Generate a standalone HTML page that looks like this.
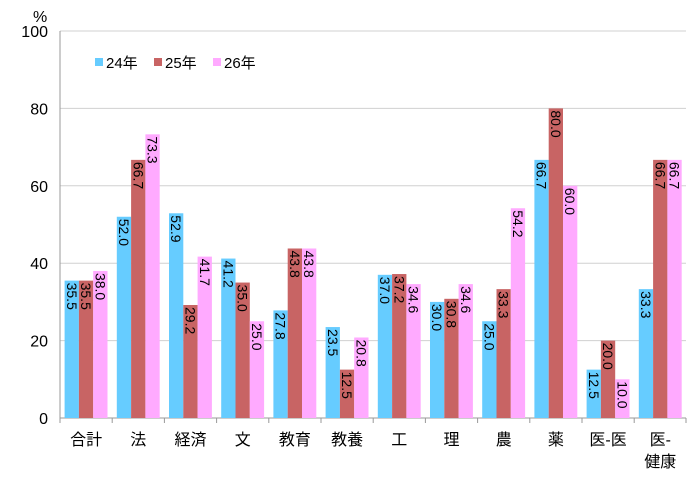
<!DOCTYPE html>
<html><head><meta charset="utf-8"><style>body{margin:0;background:#fff}svg{display:block}text{font-family:"Liberation Sans","Noto Sans CJK JP",sans-serif}</style></head><body>
<svg id="s" width="690" height="478" xmlns="http://www.w3.org/2000/svg"></svg>
<script>
const s=document.getElementById('s');
const d=[["合計",35.5,35.5,38.0],["法",52.0,66.7,73.3],["経済",52.9,29.2,41.7],["文",41.2,35.0,25.0],["教育",27.8,43.8,43.8],["教養",23.5,12.5,20.8],["工",37.0,37.2,34.6],["理",30.0,30.8,34.6],["農",25.0,33.3,54.2],["薬",66.7,80.0,60.0],["医-医",12.5,20.0,10.0],["医-\n健康",33.3,66.7,66.7]];
const col=["#66CCFF","#C86464","#FFAAFF"];
const x0=60,y0=418,ys=3.87,cw=52.2,bw=14.3;
let h='';
for(let v=0;v<=100;v+=20){const y=y0-v*ys;
 if(v>0)h+=`<line x1="${x0}" x2="686" y1="${y}" y2="${y}" stroke="#d0d0d0"/>`;
 h+=`<text x="48" y="${y+6}" font-size="16" text-anchor="end">${v}</text>`;}
h+=`<text x="33" y="22" font-size="16">%</text>`;
h+=`<line x1="${x0}" x2="${x0}" y1="31" y2="${y0}" stroke="#999"/><line x1="${x0}" x2="686" y1="${y0}" y2="${y0}" stroke="#999"/>`;
d.forEach((c,i)=>{const gx=x0+i*cw;
 h+=`<line x1="${gx}" x2="${gx}" y1="${y0}" y2="${y0+5}" stroke="#999"/>`;
 for(let k=0;k<3;k++){const v=c[k+1],bx=gx+4.6+k*bw,t=y0-v*ys;
  h+=`<rect x="${bx}" y="${t}" width="${bw}" height="${v*ys}" fill="${col[k]}"/>`;
  h+=`<text transform="translate(${bx+bw/2-5},${t+2}) rotate(90)" font-size="14">${v.toFixed(1)}</text>`;}
 const ls=c[0].split('\n');ls.forEach((l,j)=>{h+=`<text x="${gx+cw/2}" y="${445+j*22}" font-size="16" text-anchor="middle">${l}</text>`;});
});
h+=`<line x1="686" x2="686" y1="${y0}" y2="${y0+5}" stroke="#999"/>`;
[[95,"24年"],[154,"25年"],[213,"26年"]].forEach((l,k)=>{h+=`<rect x="${l[0]}" y="58" width="8" height="8" fill="${col[k]}"/><text x="${l[0]+11}" y="68" font-size="15">${l[1]}</text>`;});
s.innerHTML=h;
</script>
</body></html>
